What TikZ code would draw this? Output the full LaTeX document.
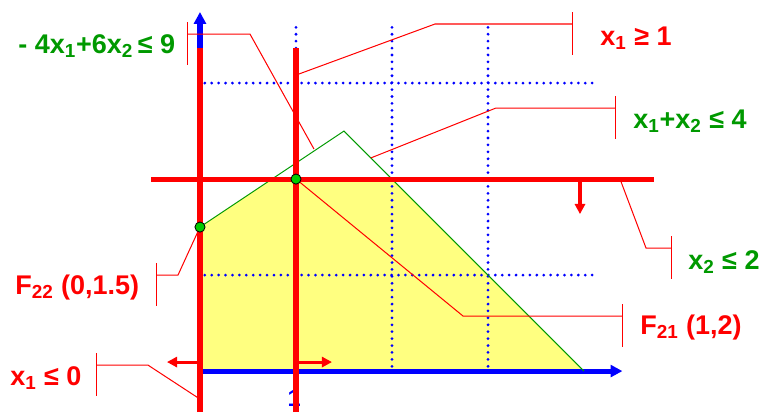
\documentclass[tikz,border=0pt]{standalone}
\usepackage{fontspec}
\setmainfont{Liberation Sans}
\usetikzlibrary{arrows.meta}
\definecolor{lpred}{RGB}{255,0,0}
\definecolor{lpgreen}{RGB}{0,153,0}
\definecolor{lpblue}{RGB}{0,0,255}
\definecolor{lpyellow}{RGB}{255,255,128}
\definecolor{lpdot}{RGB}{0,204,0}
\tikzset{
  leader/.style={lpred, line width=0.6pt},
  cut/.style={lpred, line width=3pt},
  griddots/.style={lpblue, line width=1.8pt, line cap=round, dash pattern=on 0pt off 4.1pt},
  axis/.style={lpblue, line width=3pt, -{Triangle[length=7pt,width=7pt]}},
  push/.style={lpred, line width=1.8pt, -{Triangle[length=6pt,width=6pt]}},
  lbl/.style={font=\bfseries\fontsize{16}{18}\selectfont, anchor=west, inner sep=0pt},
  vtx/.style={circle, fill=lpdot, draw=black, line width=0.5pt, inner sep=0pt, minimum size=6pt},
}
\begin{document}
\begin{tikzpicture}[x=2cm, y=2cm]
    \useasboundingbox (-2.083,-0.427) rectangle (5.833,3.865);

    % Feasible region
    \fill[lpyellow] (0,0) -- (0,1.5) -- (0.75,2) -- (2,2) -- (4,0) -- cycle;

    % Grid
    \foreach \x in {1,2,3} \draw[griddots] (\x,0.05) -- (\x,3.635);
    \foreach \y in {1,3} \draw[griddots] (0.05,\y) -- (4.146,\y);

    % Axes
    \coordinate (O) at (0,0);
    \coordinate (xend) at (4.4,0);
    \coordinate (yend) at (0,3.74);
    \draw[axis] (O) -- (xend);
    \draw[axis] (O) -- (yend);
    \node[lpblue, font=\bfseries\fontsize{14}{14}\selectfont] (tick) at (0.98,-0.28) {1};

    % Constraints of the relaxation
    \coordinate (F22) at (0,1.5);
    \coordinate (top) at (1.5,2.5);
    \coordinate (xcut) at (4,0);
    \draw[lpgreen, line width=0.6pt] (F22) -- (top) -- (xcut);

    % Branching cuts
    \draw[cut] (0,-0.427) -- (0,3.365);
    \draw[cut] (1,-0.427) -- (1,3.365);
    \draw[cut] (-0.51,2) -- (4.73,2);

    % Directions of the cuts
    \draw[push] (3.958,2) -- (3.958,1.635);
    \draw[push] (0,0.094) -- (-0.344,0.094);
    \draw[push] (1,0.094) -- (1.375,0.094);

    % Labels
    \node[lbl, lpgreen] (cA) at (-1.896,3.385) {- 4x\textsubscript{1}+6x\textsubscript{2}\,≤ 9};
    \node[lbl, lpred] (cB) at (4.167,3.469) {x\textsubscript{1} ≥ 1};
    \node[lbl, lpgreen] (cC) at (4.51,2.604) {x\textsubscript{1}+x\textsubscript{2} ≤ 4};
    \node[lbl, lpgreen] (cD) at (5.083,1.135) {x\textsubscript{2} ≤ 2};
    \node[lbl, lpred] (cE) at (-1.927,0.875) {F\textsubscript{22} (0,1.5)};
    \node[lbl, lpred] (cF) at (-1.979,-0.073) {x\textsubscript{1} ≤ 0};
    \node[lbl, lpred] (cG) at (4.583,0.458) {F\textsubscript{21} (1,2)};

    % Leaders (bar, knee, target)
    \coordinate (barA) at (-0.125,3.51);  \coordinate (pA) at (1.1875,2.3125);
    \coordinate (barB) at (3.885,3.615);  \coordinate (pB) at (1,3.083);
    \coordinate (barC) at (4.333,2.74);   \coordinate (pC) at (1.78,2.22);
    \coordinate (barD) at (4.906,1.281);  \coordinate (pD) at (4.375,2);
    \coordinate (barE) at (-0.448,1.0);
    \coordinate (barF) at (-1.083,0.0625); \coordinate (pF) at (0,-0.292);
    \coordinate (barG) at (4.396,0.573);
    \coordinate (F21) at (1,2);
    \foreach \b in {barA,barB,barC,barD,barE,barF,barG}
        \draw[leader] (\b) ++(0,0.125) -- ++(0,-0.45);
    \draw[leader] (barA) -- (0.521,3.51) -- (pA);
    \draw[leader] (barB) -- (2.448,3.615) -- (pB);
    \draw[leader] (barC) -- (3.083,2.74) -- (pC);
    \draw[leader] (barD) -- (4.646,1.281) -- (pD);
    \draw[leader] (barE) -- (-0.229,1.0) -- (F22);
    \draw[leader] (barF) -- (-0.542,0.0625) -- (pF);
    \draw[leader] (barG) -- (2.74,0.573) -- (F21);

    % Vertices
    \node[vtx] (v22) at (F22) {};
    \node[vtx] (v21) at (F21) {};
\end{tikzpicture}
\end{document}
